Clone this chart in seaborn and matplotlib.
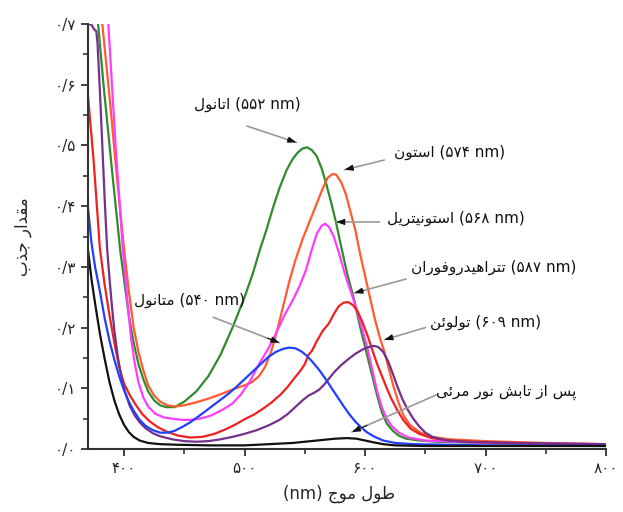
import numpy as np
import pandas as pd
import matplotlib
matplotlib.use("Agg")
import matplotlib.pyplot as plt
import seaborn as sns

# Persian text has to be shaped by hand: matplotlib has no Arabic joining.
# (isolated, final, initial, medial); letters joining only to the right have no initial/medial
FORMS = {
    'ا': ('\uFE8D', '\uFE8E', None, None),
    'ب': ('\uFE8F', '\uFE90', '\uFE91', '\uFE92'),
    'پ': ('\uFB56', '\uFB57', '\uFB58', '\uFB59'),
    'ت': ('\uFE95', '\uFE96', '\uFE97', '\uFE98'),
    'ج': ('\uFE9D', '\uFE9E', '\uFE9F', '\uFEA0'),
    'د': ('\uFEA9', '\uFEAA', None, None),
    'ذ': ('\uFEAB', '\uFEAC', None, None),
    'ر': ('\uFEAD', '\uFEAE', None, None),
    'ز': ('\uFEAF', '\uFEB0', None, None),
    'س': ('\uFEB1', '\uFEB2', '\uFEB3', '\uFEB4'),
    'ش': ('\uFEB5', '\uFEB6', '\uFEB7', '\uFEB8'),
    'ط': ('\uFEC1', '\uFEC2', '\uFEC3', '\uFEC4'),
    'ف': ('\uFED1', '\uFED2', '\uFED3', '\uFED4'),
    'ق': ('\uFED5', '\uFED6', '\uFED7', '\uFED8'),
    'ل': ('\uFEDD', '\uFEDE', '\uFEDF', '\uFEE0'),
    'م': ('\uFEE1', '\uFEE2', '\uFEE3', '\uFEE4'),
    'ن': ('\uFEE5', '\uFEE6', '\uFEE7', '\uFEE8'),
    'ه': ('\uFEE9', '\uFEEA', '\uFEEB', '\uFEEC'),
    'و': ('\uFEED', '\uFEEE', None, None),
    'ئ': ('\uFE89', '\uFE8A', '\uFE8B', '\uFE8C'),
    'ی': ('\uFBFC', '\uFBFD', '\uFBFE', '\uFBFF'),
}


def shape_word(word):
    out = []
    for i, ch in enumerate(word):
        if ch not in FORMS:
            out.append(ch)
            continue
        iso, fin, ini, med = FORMS[ch]
        prev = word[i - 1] if i > 0 else None
        nxt = word[i + 1] if i < len(word) - 1 else None
        join_prev = prev in FORMS and FORMS[prev][2] is not None
        join_next = ini is not None and nxt in FORMS
        if join_prev and join_next:
            out.append(med)
        elif join_prev:
            out.append(fin)
        elif join_next:
            out.append(ini)
        else:
            out.append(iso)
    return ''.join(reversed(out))


def fa(text):
    return ' '.join(shape_word(w) for w in reversed(text.split()))


# ---- data ----
ethanol_x = [370, 375, 378.5, 383, 390, 397, 400, 404, 408, 412, 416, 420, 425, 430, 435, 442, 450,
             460, 470, 480, 490, 500, 507, 513, 518, 524, 529, 535, 540, 544, 548, 552, 556, 560,
             564, 568, 572, 576, 580, 585, 591, 596, 601, 606, 610, 614, 618, 623, 628, 634, 645,
             660, 700, 750, 800]
ethanol_y = [0.88, 0.77, 0.70, 0.60, 0.46, 0.325, 0.28, 0.22, 0.175, 0.14, 0.115, 0.095, 0.08,
             0.072, 0.069, 0.069, 0.078, 0.095, 0.12, 0.155, 0.20, 0.25, 0.29, 0.33, 0.36, 0.40,
             0.43, 0.46, 0.478, 0.488, 0.495, 0.497, 0.492, 0.482, 0.462, 0.435, 0.405, 0.372,
             0.335, 0.29, 0.245, 0.20, 0.16, 0.12, 0.088, 0.06, 0.042, 0.03, 0.022, 0.017, 0.014,
             0.012, 0.010, 0.008, 0.007]

acetone_x = [370, 376, 382, 388, 394, 400, 404, 408, 412, 416, 420, 425, 430, 436, 442, 450, 460,
             470, 480, 490, 500, 506, 512, 517, 522, 527, 532, 537, 542, 548, 554, 560, 565, 569,
             573, 576, 580, 584, 588, 592, 596, 600, 604, 608, 612, 616, 620, 624, 628, 632, 637,
             645, 655, 670, 700, 750, 800]
acetone_y = [0.90, 0.78, 0.70, 0.58, 0.45, 0.33, 0.26, 0.20, 0.16, 0.13, 0.105, 0.088, 0.078,
             0.072, 0.070, 0.072, 0.077, 0.083, 0.09, 0.098, 0.105, 0.11, 0.12, 0.135, 0.16, 0.195,
             0.235, 0.275, 0.31, 0.345, 0.375, 0.405, 0.43, 0.447, 0.453, 0.452, 0.44, 0.42, 0.39,
             0.36, 0.32, 0.285, 0.25, 0.215, 0.185, 0.16, 0.13, 0.10, 0.075, 0.055, 0.04, 0.028,
             0.02, 0.016, 0.013, 0.010, 0.008]

acetonitrile_x = [370, 380, 387, 393, 399, 403, 406, 409, 412, 416, 420, 426, 433, 440, 448, 455,
                  463, 472, 482, 490, 497, 504, 512, 519, 526, 533, 540, 546, 551, 556, 560, 564,
                  567, 570, 574, 578, 583, 588, 593, 598, 602, 606, 610, 614, 618, 622, 628, 636,
                  650, 700, 800]
acetonitrile_y = [1.1, 0.92, 0.70, 0.50, 0.33, 0.24, 0.18, 0.14, 0.11, 0.085, 0.07, 0.058, 0.052,
                  0.05, 0.048, 0.048, 0.05, 0.055, 0.065, 0.075, 0.09, 0.11, 0.14, 0.163, 0.19,
                  0.22, 0.245, 0.27, 0.295, 0.33, 0.355, 0.368, 0.371, 0.366, 0.35, 0.325, 0.29,
                  0.26, 0.23, 0.195, 0.165, 0.13, 0.095, 0.068, 0.05, 0.038, 0.027, 0.019, 0.014,
                  0.010, 0.008]

thf_x = [370, 375, 380, 384, 388, 392, 396, 400, 405, 410, 415, 421, 428, 435, 445, 455, 465, 475,
         485, 493, 500, 508, 515, 522, 530, 536, 541, 546, 550, 553, 556, 560, 565, 570, 574, 578,
         582, 586, 590, 594, 598, 602, 606, 610, 614, 618, 622, 627, 632, 638, 645, 655, 670, 700,
         800]
thf_y = [0.585, 0.47, 0.33, 0.27, 0.22, 0.175, 0.135, 0.108, 0.088, 0.072, 0.058, 0.046, 0.036,
         0.029, 0.022, 0.019, 0.02, 0.025, 0.033, 0.041, 0.049, 0.057, 0.066, 0.076, 0.09, 0.103,
         0.116, 0.128, 0.14, 0.155, 0.162, 0.178, 0.195, 0.207, 0.222, 0.235, 0.241, 0.242, 0.237,
         0.226, 0.208, 0.187, 0.163, 0.14, 0.12, 0.10, 0.082, 0.063, 0.047, 0.033, 0.025, 0.018,
         0.014, 0.011, 0.007]

toluene_x = [370, 373, 375, 377, 378, 380, 382, 384, 386, 388, 390, 392, 395, 398, 401, 405, 409,
             413, 418, 424, 430, 440, 450, 460, 470, 480, 490, 500, 510, 520, 529, 536, 542, 548,
             553, 558, 562, 566, 570, 575, 580, 586, 592, 598, 603, 607, 611, 615, 619, 623, 627,
             631, 635, 640, 645, 650, 656, 665, 680, 720, 800]
toluene_y = [0.70, 0.699, 0.692, 0.688, 0.67, 0.59, 0.50, 0.41, 0.33, 0.28, 0.235, 0.195, 0.15,
             0.117, 0.093, 0.07, 0.055, 0.044, 0.034, 0.026, 0.021, 0.016, 0.013, 0.012, 0.013,
             0.016, 0.02, 0.025, 0.031, 0.039, 0.048, 0.058, 0.069, 0.08, 0.088, 0.093, 0.098,
             0.106, 0.116, 0.128, 0.138, 0.148, 0.157, 0.164, 0.168, 0.17, 0.168, 0.16, 0.145,
             0.124, 0.102, 0.082, 0.066, 0.05, 0.037, 0.027, 0.02, 0.015, 0.012, 0.010, 0.008]

methanol_x = [370, 373, 376, 380, 384, 388, 392, 396, 400, 404, 408, 413, 418, 424, 430, 436, 442,
              448, 455, 462, 470, 478, 486, 493, 500, 507, 514, 520, 526, 532, 537, 542, 547, 552,
              557, 562, 567, 572, 577, 582, 587, 592, 597, 602, 608, 615, 625, 640, 700, 800]
methanol_y = [0.40, 0.34, 0.30, 0.26, 0.215, 0.178, 0.147, 0.12, 0.097, 0.078, 0.063, 0.048, 0.038,
              0.031, 0.027, 0.027, 0.03, 0.036, 0.044, 0.054, 0.066, 0.078, 0.09, 0.102, 0.115,
              0.128, 0.141, 0.152, 0.16, 0.165, 0.167, 0.166, 0.161, 0.153, 0.142, 0.13, 0.116,
              0.101, 0.086, 0.071, 0.057, 0.045, 0.035, 0.027, 0.02, 0.014, 0.010, 0.008, 0.006,
              0.005]

irradiated_x = [370, 373, 376, 380, 384, 388, 392, 396, 400, 404, 408, 413, 420, 430, 445, 470, 500,
                520, 540, 555, 565, 575, 585, 593, 600, 607, 615, 625, 650, 700, 800]
irradiated_y = [0.33, 0.28, 0.24, 0.19, 0.148, 0.11, 0.08, 0.057, 0.04, 0.028, 0.02, 0.014, 0.01,
                0.008, 0.007, 0.006, 0.006, 0.008, 0.01, 0.013, 0.015, 0.017, 0.018, 0.017, 0.014,
                0.011, 0.008, 0.006, 0.005, 0.005, 0.005]

series = {
    'ethanol': (ethanol_x, ethanol_y),
    'acetone': (acetone_x, acetone_y),
    'acetonitrile': (acetonitrile_x, acetonitrile_y),
    'thf': (thf_x, thf_y),
    'toluene': (toluene_x, toluene_y),
    'methanol': (methanol_x, methanol_y),
    'irradiated': (irradiated_x, irradiated_y),
}
colors = {
    'ethanol': '#2e8b2e',
    'acetone': '#ff5a30',
    'acetonitrile': '#ff3cff',
    'thf': '#f02020',
    'toluene': '#74308c',
    'methanol': '#2040ff',
    'irradiated': '#111111',
}

x_ticks = [400, 500, 600, 700, 800]
x_tick_labels = ['۴۰۰', '۵۰۰', '۶۰۰', '۷۰۰', '۸۰۰']
y_ticks = [0.0, 0.1, 0.2, 0.3, 0.4, 0.5, 0.6, 0.7]
y_tick_labels = ['۰/۰', '۰/۱', '۰/۲', '۰/۳', '۰/۴', '۰/۵', '۰/۶', '۰/۷']

frames = [pd.DataFrame({'wl': xs, 'abs': ys, 'solvent': name}) for name, (xs, ys) in series.items()]
df = pd.concat(frames, ignore_index=True)

sns.set_style("ticks")
plt.rcParams['font.family'] = ['DejaVu Sans']

fig = plt.figure(figsize=(6.23, 5.12), dpi=100)
ax = fig.add_axes([0.141, 0.123, 0.832, 0.830])

sns.lineplot(data=df, x='wl', y='abs', hue='solvent', palette=colors, estimator=None,
             sort=False, linewidth=1.6, legend=False, ax=ax)
for line in ax.lines:
    line.set_solid_joinstyle('round')

ax.set_xlim(370, 800)
ax.set_ylim(0, 0.7)
ax.set_xticks(x_ticks)
ax.set_xticklabels(x_tick_labels, fontsize=11)
ax.set_yticks(y_ticks)
ax.set_yticklabels(y_tick_labels, fontsize=11)
ax.set_xticks([450, 550, 650, 750], minor=True)
ax.set_yticks([0.05, 0.15, 0.25, 0.35, 0.45, 0.55, 0.65], minor=True)
ax.tick_params(which='major', length=5, width=1.3, color='#333333')
ax.tick_params(which='minor', length=3.5, width=1.2, color='#333333')
sns.despine(ax=ax)
for side in ['left', 'bottom']:
    ax.spines[side].set_linewidth(1.5)
    ax.spines[side].set_color('#333333')

ax.set_xlabel('(nm) ' + fa('طول موج'), fontsize=12, labelpad=8)
ax.xaxis.set_label_coords(0.485, -0.085)
ax.set_ylabel(fa('مقدار جذب'), fontsize=12, labelpad=16)

# label text, label centre, arrow tail, arrow head
labels = [
    (fa('اتانول') + ' (۵۵۲ nm)', (502, 0.568), (502, 0.532), (543, 0.505)),
    (fa('استون') + ' (۵۷۴ nm)', (670, 0.489), (616, 0.476), (583, 0.460)),
    (fa('استونیتریل') + ' (۵۶۸ nm)', (675, 0.380), (612, 0.374), (576, 0.374)),
    (fa('تتراهیدروفوران') + ' (۵۸۷ nm)', (707, 0.300), (634, 0.280), (591, 0.257)),
    (fa('تولوئن') + ' (۶۰۹ nm)', (700, 0.209), (650, 0.200), (616, 0.180)),
    (fa('متانول') + ' (۵۴۰ nm)', (454, 0.245), (474, 0.217), (529, 0.175)),
    (fa('پس از تابش نور مرئی'), (717, 0.094), (659, 0.089), (589, 0.028)),
]
for text, centre, tail, head in labels:
    ax.text(centre[0], centre[1], text, ha='center', va='center', fontsize=11, color='#111111')
    ax.annotate('', xy=head, xytext=tail,
                arrowprops=dict(arrowstyle='-', color='#999999', lw=1.2, shrinkA=0, shrinkB=0))
    back = (head[0] - 0.18 * (head[0] - tail[0]), head[1] - 0.18 * (head[1] - tail[1]))
    ax.annotate('', xy=head, xytext=back,
                arrowprops=dict(arrowstyle='-|>,head_length=0.5,head_width=0.18', color='#111111',
                                lw=0.8, shrinkA=0, shrinkB=0))

fig.savefig('out.png', dpi=100)
